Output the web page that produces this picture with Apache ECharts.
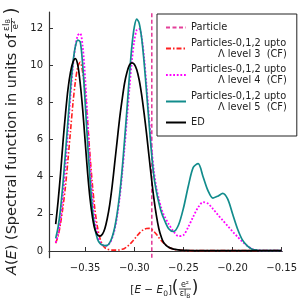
<!DOCTYPE html>
<html><head><meta charset="utf-8">
<script src="https://cdn.jsdelivr.net/npm/echarts@6/dist/echarts.min.js"></script>
<style>html,body{margin:0;padding:0;background:#fff}#c{width:300px;height:300px}</style>
</head><body><div id="c"></div>
<script>
const energy = [-0.38,-0.3775,-0.375,-0.3725,-0.37,-0.3675,-0.365,-0.3625,-0.36,-0.3575,-0.355,-0.3525,-0.35,-0.3475,-0.345,-0.3425,-0.34,-0.3375,-0.335,-0.3325,-0.33,-0.3275,-0.325,-0.3225,-0.32,-0.3175,-0.315,-0.3125,-0.31,-0.3075,-0.305,-0.3025,-0.3,-0.2975,-0.295,-0.2925,-0.29,-0.2875,-0.285,-0.2825,-0.28,-0.2775,-0.275,-0.2725,-0.27,
  -0.265,-0.26,-0.255,-0.25,-0.245,-0.24,-0.235,-0.23,-0.225,-0.22,-0.215,-0.21,-0.205,-0.2,-0.195,-0.19,-0.185,-0.18,-0.175,-0.17,-0.165,-0.16,-0.155,-0.15];
const level3 = [0.42,0.8,1.5,2.4,3.5,4.9,6.4,7.9,9.1,9.9,10.15,9.6,8.5,6.9,5.1,3.5,2.2,1.3,0.7,0.35,0.18,0.1,0.07,0.05,0.05,0.05,0.06,0.09,0.14,0.22,0.34,0.48,0.63,0.8,0.95,1.08,1.17,1.21,1.22,1.17,1.05,0.9,0.72,0.56,0.42,
  0.2,0.1,0.05,0.03,0.02,0.02,0.02,0.02,0.02,0.02,0.02,0.02,0.02,0.02,0.02,0.02,0.02,0.02,0.02,0.02,0.02,0.02,0.02,0.02];
const level4 = [0.45,0.9,1.7,3.0,4.6,6.5,8.3,9.9,11.0,11.6,11.7,11.0,9.3,7.0,4.7,2.8,1.6,0.9,0.5,0.33,0.28,0.3,0.42,0.7,1.15,1.85,2.8,4.05,5.5,7.1,8.7,10.2,11.3,11.9,11.95,11.5,10.4,8.9,7.2,5.6,4.3,3.4,2.8,2.3,1.95,
  1.45,1.05,0.8,0.85,1.3,1.85,2.35,2.63,2.55,2.27,1.95,1.65,1.35,1.05,0.77,0.5,0.28,0.1,0.04,0.02,0.02,0.02,0.02,0.02];
const level5 = [0.68,1.3,2.3,3.7,5.3,7.0,8.7,10.1,11.0,11.35,11.25,10.0,8.0,5.8,3.8,2.2,1.2,0.65,0.42,0.32,0.29,0.3,0.45,0.75,1.25,2.0,3.0,4.3,5.9,7.6,9.4,11.0,12.05,12.48,12.25,11.45,10.15,8.55,6.9,5.3,4.0,3.2,2.6,2.1,1.75,
  1.2,1.05,1.4,2.3,3.5,4.5,4.7,4.0,3.25,2.85,2.95,3.1,2.8,2.0,1.2,0.6,0.28,0.1,0.04,0.02,0.02,0.02,0.02,0.02];
const ed = [1.45,2.7,4.2,5.9,7.4,8.7,9.6,10.15,10.35,10.0,9.0,7.6,5.9,4.2,2.8,1.8,1.15,0.88,0.8,0.9,1.2,1.75,2.5,3.5,4.7,5.9,7.1,8.1,9.0,9.6,10.0,10.12,10.05,9.75,9.2,8.4,7.4,6.3,5.1,3.9,2.8,1.9,1.2,0.75,0.45,
  0.2,0.1,0.06,0.04,0.03,0.02,0.02,0.02,0.02,0.02,0.02,0.02,0.02,0.02,0.02,0.02,0.02,0.02,0.02,0.02,0.02,0.02,0.02,0.02];
const particleEnergy = [-0.2822];
const xTicks = [-0.35,-0.30,-0.25,-0.20,-0.15];
const yTicks = [0,2,4,6,8,10,12];
const xRange = [-0.3868,-0.1494];
const yRange = [-0.36,12.86];
const names = ['Particle','Particles-0,1,2 upto Λ level 3  (CF)','Particles-0,1,2 upto Λ level 4  (CF)','Particles-0,1,2 upto Λ level 5  (CF)','ED'];

const FONT = 'DejaVu Sans';
const pair = arr => energy.map((e,i)=>[e,arr[i]]);
const chart = echarts.init(document.getElementById('c'), null, {renderer:'canvas'});
const lineSeries = (name, arr, color, type, width) => ({
  name, type:'line', data: pair(arr), symbol:'none', smooth:0.3, animation:false,
  lineStyle:{color, type, width}, itemStyle:{color}
});
const legendFmt = n => {
  const m = n.match(/^(Particles-0,1,2 upto) (.*)$/);
  return m ? m[1] + '\n{b|' + m[2] + '}' : n;
};
chart.setOption({
  animation:false,
  grid:{left:49, right:17.3, top:12, bottom:42.3},
  xAxis:{type:'value', min:xRange[0], max:xRange[1],
    axisLine:{lineStyle:{color:'#333', width:1.2}},
    axisTick:{inside:true, length:4, customValues:xTicks, lineStyle:{color:'#333'}},
    axisLabel:{customValues:xTicks, fontFamily:FONT, fontSize:10, color:'#222', margin:6,
      formatter:v=>(v<0?'\u2212':'')+Math.abs(v).toFixed(2)},
    splitLine:{show:false}},
  yAxis:{type:'value', min:yRange[0], max:yRange[1],
    axisLine:{show:true, lineStyle:{color:'#333', width:1.2}},
    axisTick:{show:true, inside:true, length:4, customValues:yTicks, lineStyle:{color:'#333'}},
    axisLabel:{customValues:yTicks, fontFamily:FONT, fontSize:10, color:'#222', margin:6},
    splitLine:{show:false}},
  legend:{data:names, orient:'vertical', left:157, top:14, padding:[8,10,8,8], itemGap:4.5,
    itemWidth:20, itemHeight:8, borderColor:'#222', borderWidth:1, backgroundColor:'#fff',
    itemStyle:{opacity:0},
    selectedMode:false, formatter:legendFmt,
    textStyle:{fontFamily:FONT, fontSize:9.8, lineHeight:11, color:'#222',
      rich:{b:{fontFamily:FONT, fontSize:9.8, lineHeight:11, color:'#222', padding:[0,0,0,27]}}}},
  series:[
    {name:names[0], type:'line', symbol:'none', animation:false,
      data:[[particleEnergy[0], yRange[0]],[particleEnergy[0], yRange[1]]],
      lineStyle:{color:'#e4409a', type:[4,2.5], width:1.6}, itemStyle:{color:'#e4409a'}},
    lineSeries(names[1], level3, '#ff2020', [5,2,1.5,2], 1.6),
    lineSeries(names[2], level4, '#ff00ff', [1.8,1.8], 1.8),
    lineSeries(names[3], level5, '#128c8c', 'solid', 1.7),
    lineSeries(names[4], ed, '#000000', 'solid', 1.7)
  ],
  graphic:[
    {type:'text', x:12.5, y:34, rotation:Math.PI/2, silent:true,
      style:{text:'{i|A}({i|E}) (Spectral function in units of', align:'right', verticalAlign:'middle',
        fontFamily:FONT, fontSize:14.5, fill:'#222', rich:{i:{fontFamily:FONT, fontSize:14.5, fontStyle:'italic', fill:'#222'}}}},
    {type:'text', x:6.5, y:25, rotation:Math.PI/2, silent:true,
      style:{text:'εl{s|B}', align:'center', verticalAlign:'middle', fontFamily:FONT, fontSize:9, fill:'#222',
        rich:{s:{fontFamily:FONT, fontSize:6.5, fill:'#222', verticalAlign:'bottom', lineHeight:11}}}},
    {type:'line', silent:true, shape:{x1:11.5, y1:18, x2:11.5, y2:32}, style:{stroke:'#222', lineWidth:0.8}},
    {type:'text', x:16, y:25, rotation:Math.PI/2, silent:true,
      style:{text:'e²', align:'center', verticalAlign:'middle', fontFamily:FONT, fontSize:9, fill:'#222'}},
    {type:'text', x:12, y:11, rotation:Math.PI/2, silent:true,
      style:{text:')', align:'center', verticalAlign:'middle', fontFamily:FONT, fontSize:18, fill:'#222'}},
    {type:'text', x:172, y:290, silent:true,
      style:{text:'[{i|E} − {i|E}{s|0}]', align:'right', verticalAlign:'middle', fontFamily:FONT, fontSize:10.5, fill:'#222',
        rich:{i:{fontFamily:FONT, fontSize:10.5, fontStyle:'italic', fill:'#222'}, s:{fontFamily:FONT, fontSize:7.5, fill:'#222', verticalAlign:'bottom', lineHeight:16}}}},
    {type:'text', x:175, y:289, silent:true,
      style:{text:'(', align:'center', verticalAlign:'middle', fontFamily:FONT, fontSize:17, fill:'#222'}},
    {type:'text', x:185, y:284.5, silent:true,
      style:{text:'e²', align:'center', verticalAlign:'middle', fontFamily:FONT, fontSize:8, fill:'#222'}},
    {type:'line', silent:true, shape:{x1:179, y1:289, x2:191, y2:289}, style:{stroke:'#222', lineWidth:0.8}},
    {type:'text', x:185, y:294, silent:true,
      style:{text:'εl{s|B}', align:'center', verticalAlign:'middle', fontFamily:FONT, fontSize:8, fill:'#222',
        rich:{s:{fontFamily:FONT, fontSize:6, fill:'#222', verticalAlign:'bottom', lineHeight:10}}}},
    {type:'text', x:195, y:289, silent:true,
      style:{text:')', align:'center', verticalAlign:'middle', fontFamily:FONT, fontSize:17, fill:'#222'}}
  ]
});
</script></body></html>
